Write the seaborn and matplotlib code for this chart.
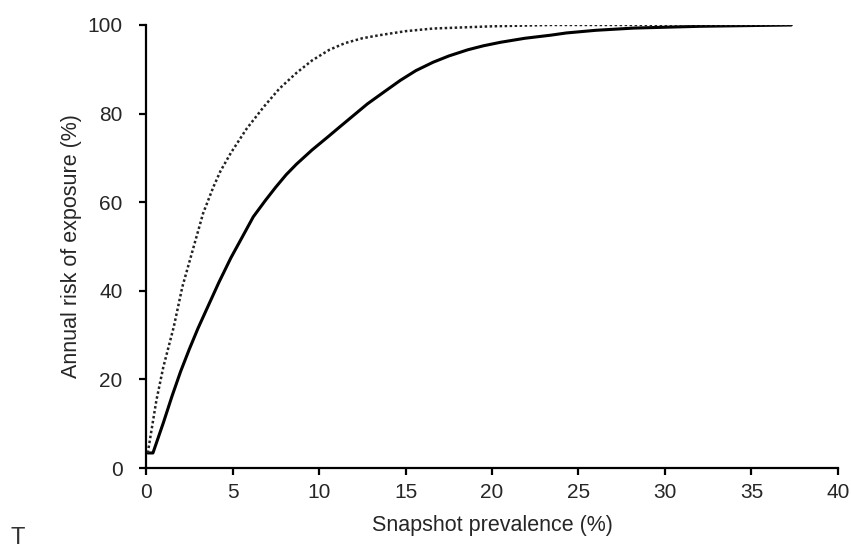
import matplotlib
matplotlib.use("Agg")
import matplotlib.pyplot as plt
import seaborn as sns
import pandas as pd

# solid curve
solid_x = [0.1, 0.4, 1.0, 1.5, 2.0, 2.5, 3.0, 3.5, 4.2, 4.9, 5.6, 6.2, 6.9, 7.5, 8.1,
           8.7, 9.6, 10.5, 11.2, 12.0, 12.8, 13.8, 14.7, 15.6, 16.6, 17.5, 18.6,
           19.5, 20.5, 21.9, 23.4, 24.3, 26.0, 28.2, 32.0, 37.3]
solid_y = [3.4, 3.4, 10.2, 16.2, 21.8, 26.8, 31.5, 35.8, 41.8, 47.4, 52.4, 56.7, 60.4,
           63.4, 66.2, 68.6, 71.8, 74.7, 77.0, 79.6, 82.2, 85.0, 87.5, 89.7, 91.6,
           93.0, 94.4, 95.3, 96.1, 97.0, 97.7, 98.2, 98.8, 99.3, 99.7, 100.0]

# dotted curve
dotted_x = [0.1, 0.6, 1.0, 1.6, 2.1, 2.7, 3.3, 3.9, 4.3, 4.9, 5.8, 6.8, 7.7, 8.7,
            9.6, 10.6, 11.5, 12.5, 13.5, 15.0, 16.6, 20.0, 23.4, 30.0, 37.3]
dotted_y = [3.4, 15.3, 22.8, 31.8, 40.9, 49.2, 57.5, 63.5, 67.0, 71.1, 76.5, 81.5,
            85.6, 89.2, 92.0, 94.4, 95.9, 97.0, 97.7, 98.6, 99.2, 99.7, 100.0, 100.0,
            100.0]

x_ticks = [0, 5, 10, 15, 20, 25, 30, 35, 40]
y_ticks = [0, 20, 40, 60, 80, 100]

sns.set_style("ticks")
plt.rcParams['font.family'] = ['Liberation Sans', 'DejaVu Sans']

df_solid = pd.DataFrame({"x": solid_x, "y": solid_y})
df_dot = pd.DataFrame({"x": dotted_x, "y": dotted_y})

fig = plt.figure(figsize=(8.51, 5.49), dpi=100)
ax = fig.add_axes([0.1716, 0.1475, 0.8131, 0.807])

sns.lineplot(data=df_solid, x="x", y="y", ax=ax, color="black", linewidth=2.2,
             sort=False, estimator=None)
sns.lineplot(data=df_dot, x="x", y="y", ax=ax, color="#222222", linewidth=1.8,
             linestyle=(0, (1, 1)), sort=False, estimator=None)

ax.set_xlim(0, 40)
ax.set_ylim(0, 100)
ax.set_xticks(x_ticks)
ax.set_yticks(y_ticks)
ax.set_xlabel("Snapshot prevalence (%)", fontsize=15.5, labelpad=9)
ax.set_ylabel("Annual risk of exposure (%)", fontsize=15.5, labelpad=4)
ax.tick_params(labelsize=15, width=1.6, length=5, color="black")
ax.tick_params(axis="y", pad=12)
ax.tick_params(axis="x", pad=6)
sns.despine(ax=ax)
for s in ["left", "bottom"]:
    ax.spines[s].set_linewidth(1.6)
    ax.spines[s].set_color("black")

fig.text(0.012, 0.01, "T", fontsize=17, color="#333333")

fig.savefig("out.png", dpi=100)
